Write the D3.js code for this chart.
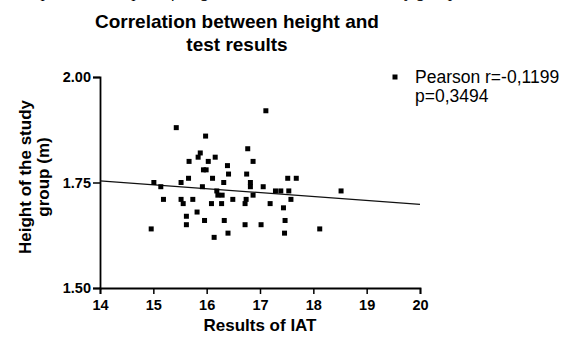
<!DOCTYPE html>
<html>
<head>
<meta charset="utf-8">
<script src="https://cdn.jsdelivr.net/npm/d3@7"></script>
<style>
  body { margin: 0; background: #fff; }
  svg { display: block; font-family: Arial, "Liberation Sans", sans-serif; }
</style>
</head>
<body>
<div id="chart"></div>
<script>
// IAT score of each subject
const iatScores = [
    15.01, 15.14, 15.19, 14.96, 15.43, 15.52, 15.52, 15.56, 15.62, 15.62,
    15.66, 15.67, 15.74, 15.82, 15.84, 15.88, 15.92, 15.94, 15.99, 15.96,
    15.98, 16.03, 16.09, 16.11, 16.14, 16.16, 16.19, 16.21, 16.29, 16.28,
    16.32, 16.33, 16.39, 16.41, 16.40, 16.49, 16.72, 16.74, 16.72, 16.75,
    16.77, 16.82, 16.82, 16.87, 16.87, 17.02, 17.06, 17.11, 17.19, 17.29,
    17.39, 17.54, 17.44, 17.47, 17.46, 17.52, 17.68, 17.58, 18.12, 18.52
];
// height (m) of the same subjects
const heights = [
    1.75, 1.74, 1.71, 1.64, 1.88, 1.75, 1.71, 1.70, 1.67, 1.65,
    1.76, 1.80, 1.71, 1.68, 1.81, 1.82, 1.74, 1.78, 1.78, 1.66,
    1.86, 1.80, 1.70, 1.76, 1.62, 1.81, 1.73, 1.72, 1.72, 1.70,
    1.75, 1.66, 1.79, 1.77, 1.63, 1.71, 1.70, 1.71, 1.65, 1.77,
    1.83, 1.75, 1.74, 1.80, 1.72, 1.65, 1.74, 1.92, 1.70, 1.73,
    1.73, 1.73, 1.69, 1.66, 1.63, 1.76, 1.76, 1.71, 1.64, 1.73
];
// fitted regression line, read at both ends of the x axis
const fitX = [14, 20];
const fitY = [1.754, 1.698];

const xTicks = [14, 15, 16, 17, 18, 19, 20];
const yTicks = [1.50, 1.75, 2.00];
const titleLines = ["Correlation between height and", "test results"];
const yTitleLines = ["Height of the study", "group (m)"];
const legendLines = ["Pearson r=-0,1199", "p=0,3494"];

const width = 572, height = 339;

const svg = d3.select("#chart").append("svg")
    .attr("width", width)
    .attr("height", height);

const x = d3.scaleLinear().domain([14, 20]).range([100, 420]);
const y = d3.scaleLinear().domain([1.5, 2.0]).range([288, 77]);

// caption of the page above, only its lowest strokes show
svg.append("text")
    .attr("x", 236).attr("y", -3)
    .attr("text-anchor", "middle")
    .style("font-family", "'Liberation Serif', serif")
    .style("font-style", "italic")
    .style("font-size", "17px")
    .text("Graph 3. Scatter plot of height and IAT results in the study group");

// title
svg.append("g").selectAll("text")
    .data(titleLines)
    .enter().append("text")
    .attr("x", 237)
    .attr("y", (d, i) => 28 + i * 23)
    .attr("text-anchor", "middle")
    .style("font-weight", "bold")
    .style("font-size", "19px")
    .text(d => d);

// axes
const xAxis = svg.append("g")
    .attr("transform", `translate(0,${y(1.5)})`)
    .call(d3.axisBottom(x).tickValues(xTicks).tickSize(6).tickFormat(d3.format("d")));

const yAxis = svg.append("g")
    .attr("transform", `translate(${x(14)},0)`)
    .call(d3.axisLeft(y).tickValues(yTicks).tickSize(7).tickFormat(d3.format(".2f")));

[xAxis, yAxis].forEach(a => {
    a.select(".domain").attr("stroke", "#000").attr("stroke-width", 1.8);
    a.selectAll(".tick line").attr("stroke", "#000").attr("stroke-width", 1.5);
    a.selectAll(".tick text")
        .attr("fill", "#000")
        .style("font-family", "Arial, 'Liberation Sans', sans-serif")
        .style("font-weight", "bold")
        .style("font-size", "14.5px");
});
xAxis.selectAll(".tick text").attr("dy", "0.75em").attr("y", 11);
yAxis.selectAll(".tick text").attr("x", -9);

// x axis title
svg.append("text")
    .attr("x", 260).attr("y", 331)
    .attr("text-anchor", "middle")
    .style("font-weight", "bold")
    .style("font-size", "17px")
    .text("Results of IAT");

// y axis title
svg.append("g")
    .attr("transform", "translate(0,177) rotate(-90)")
    .selectAll("text")
    .data(yTitleLines)
    .enter().append("text")
    .attr("x", 0)
    .attr("y", (d, i) => 31 + i * 18)
    .attr("text-anchor", "middle")
    .style("font-weight", "bold")
    .style("font-size", "17px")
    .text(d => d);

// regression line
svg.append("line")
    .attr("x1", x(fitX[0])).attr("y1", y(fitY[0]))
    .attr("x2", x(fitX[1])).attr("y2", y(fitY[1]))
    .attr("stroke", "#111")
    .attr("stroke-width", 1.3);

// points
const size = 5;
svg.append("g").selectAll("rect")
    .data(iatScores.map((v, i) => [v, heights[i]]))
    .enter().append("rect")
    .attr("x", d => x(d[0]) - size / 2)
    .attr("y", d => y(d[1]) - size / 2)
    .attr("width", size)
    .attr("height", size)
    .attr("fill", "#000");

// legend
svg.append("rect")
    .attr("x", 395 - size / 2).attr("y", 77 - size / 2)
    .attr("width", size).attr("height", size)
    .attr("fill", "#000");

svg.append("g").selectAll("text")
    .data(legendLines)
    .enter().append("text")
    .attr("x", 415)
    .attr("y", (d, i) => 83 + i * 19)
    .style("font-size", "17.5px")
    .text(d => d);
</script>
</body>
</html>
